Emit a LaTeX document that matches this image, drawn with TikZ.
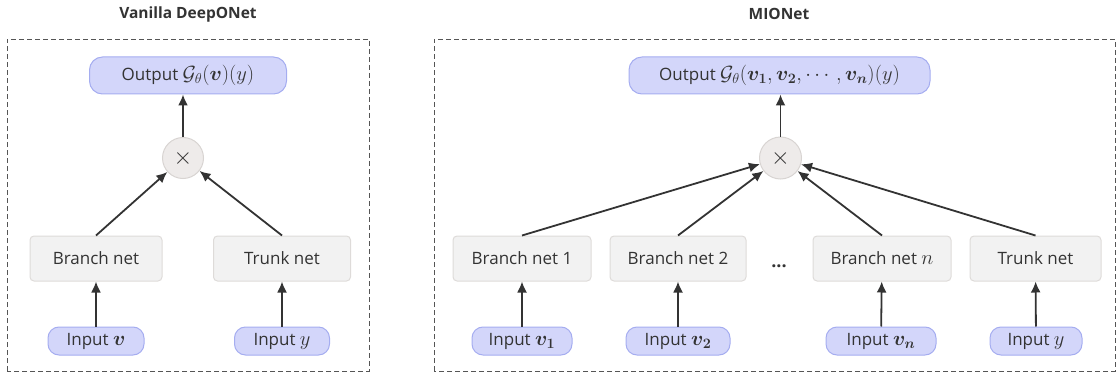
\RequirePackage{fix-cm}
\documentclass[tikz,border=0pt]{standalone}
\usepackage{amsmath}
\usepackage{fontspec}
\setmainfont{Open Sans}
\usetikzlibrary{arrows.meta}
\definecolor{lavfill}{RGB}{211,214,250}
\definecolor{lavdraw}{RGB}{165,173,240}
\definecolor{gfill}{RGB}{242,242,242}
\definecolor{gdraw}{RGB}{222,219,217}
\definecolor{cfill}{RGB}{238,235,234}
\definecolor{cdraw}{RGB}{216,212,210}
\definecolor{txt}{RGB}{51,51,51}
\definecolor{frame}{RGB}{85,85,85}
\newcommand{\mth}[1]{{\fontsize{20.5}{24}\selectfont$#1$}}
\tikzset{
  lav/.style={draw=lavdraw, fill=lavfill, line width=1pt, text=txt, inner sep=0pt, font=\fontsize{17}{20}\selectfont},
  outbox/.style={lav, rounded corners=13pt, minimum height=37pt},
  inbox/.style={lav, rounded corners=11pt, minimum height=28pt},
  netbox/.style={draw=gdraw, fill=gfill, line width=1pt, rounded corners=4pt, minimum height=45pt, inner sep=0pt, text=txt, font=\fontsize{17}{20}\selectfont},
  mulc/.style={circle, draw=cdraw, fill=cfill, line width=1pt, inner sep=0pt, text=txt, font=\fontsize{24}{28}\selectfont},
  conn/.style={draw=txt, line width=1.8pt, -{Latex[length=11pt,width=10pt]}},
  panel/.style={draw=frame, line width=0.9pt, dash pattern=on 5pt off 3pt},
  ttl/.style={text=txt, font=\bfseries\fontsize{15.5}{18}\selectfont}
}
\begin{document}
\begin{tikzpicture}[x=1pt,y=1pt]
\useasboundingbox (0,0) rectangle (1117,373);
% left panel
\node[ttl] (t1) at (188,359) {Vanilla DeepONet};
\draw[panel] (7,2) rectangle (369,334);
\node[outbox, minimum width=197pt] (o1) at (188,297.5) {Output \mth{\mathcal{G}_\theta(\boldsymbol{v})(y)}};
\node[mulc, minimum size=41pt] (m1) at (183,215) {$\times$};
\node[netbox, minimum width=132pt] (b1) at (96,114.5) {Branch net};
\node[netbox, minimum width=137pt] (tr1) at (282,114.5) {Trunk net};
\node[inbox, minimum width=96pt] (i1) at (96,32) {Input \mth{\boldsymbol{v}}};
\node[inbox, minimum width=95pt] (iy1) at (282,32) {Input \mth{y}};
\draw[conn] (i1) -- (b1);
\draw[conn] (iy1) -- (tr1);
\draw[conn] (b1.north) -- (m1);
\draw[conn] (tr1.north) -- (m1);
\draw[conn] (m1.north) -- (m1.north |- o1.south);
% right panel
\node[ttl] (t2) at (779,359) {MIONet};
\draw[panel] (434,2) rectangle (1115,334);
\node[outbox, minimum width=301pt] (o2) at (779.5,297.5) {Output \mth{\mathcal{G}_\theta(\boldsymbol{v_1},\boldsymbol{v_2},\cdots,\boldsymbol{v_n})(y)}};
\node[mulc, minimum size=42pt] (m2) at (780.5,215) {$\times$};
\node[netbox, minimum width=138pt] (rb1) at (522,114.5) {Branch net 1};
\node[netbox, minimum width=136pt] (rb2) at (678,114.5) {Branch net 2};
\node[text=txt, font=\bfseries\fontsize{18}{20}\selectfont, anchor=base] (dots) at (779,106) {...};
\node[netbox, minimum width=138pt] (rbn) at (882,114.5) {Branch net \mth{n}};
\node[netbox, minimum width=131pt] (rtr) at (1035.5,114.5) {Trunk net};
\node[inbox, minimum width=100pt] (ri1) at (522,32) {Input \mth{\boldsymbol{v_1}}};
\node[inbox, minimum width=104pt] (ri2) at (678,32) {Input \mth{\boldsymbol{v_2}}};
\node[inbox, minimum width=110pt] (rin) at (881,32) {Input \mth{\boldsymbol{v_n}}};
\node[inbox, minimum width=92pt] (riy) at (1036,32) {Input \mth{y}};
\draw[conn] (ri1) -- (rb1);
\draw[conn] (ri2) -- (rb2);
\draw[conn] (rin) -- (rbn);
\draw[conn] (riy) -- (rtr);
\draw[conn] (rb1.north) -- (m2);
\draw[conn] (rb2.north) -- (m2);
\draw[conn] (rbn.north) -- (m2);
\draw[conn] (rtr.north) -- (m2);
\draw[conn] (m2.north) -- (m2.north |- o2.south);
\end{tikzpicture}
\end{document}
